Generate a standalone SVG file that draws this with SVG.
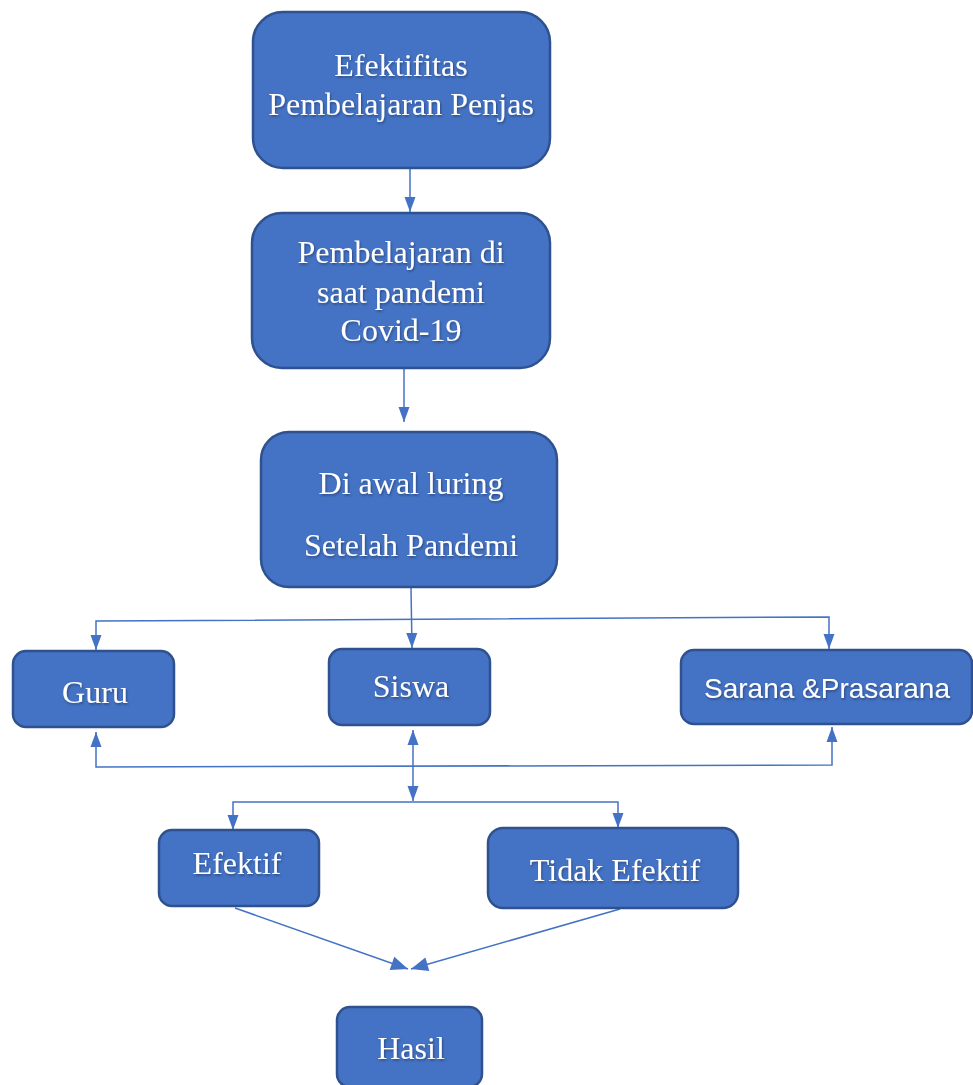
<svg xmlns="http://www.w3.org/2000/svg" width="973" height="1085" viewBox="0 0 973 1085">
<style>
.box{fill:#4472C4;stroke:#2F528F;stroke-width:2.5}
.t{font-family:"Liberation Serif","Times New Roman",serif;font-size:32px;fill:#ffffff;text-anchor:middle;filter:url(#ts)}
.s{font-family:"Liberation Sans",Arial,sans-serif;font-size:28px;fill:#ffffff;text-anchor:middle;filter:url(#ts)}
.c{fill:none;stroke:#4472C4;stroke-width:1.5}
</style>
<defs>
<marker id="ah" markerUnits="userSpaceOnUse" markerWidth="18" markerHeight="14" viewBox="0 0 16 14" refX="15" refY="7" orient="auto-start-reverse">
<path d="M0,1.5 L15,7 L0,12.5 Z" fill="#4472C4"/>
</marker>
<marker id="ahb" markerUnits="userSpaceOnUse" markerWidth="20" markerHeight="18" viewBox="0 0 18 18" refX="17" refY="9" orient="auto">
<path d="M0,2 L17,9 L0,16 Z" fill="#4472C4"/>
</marker>
<filter id="ts" x="-10%" y="-20%" width="120%" height="150%">
<feDropShadow dx="1" dy="1.5" stdDeviation="1" flood-color="#000" flood-opacity="0.35"/>
</filter>
</defs>
<rect width="973" height="1085" fill="#ffffff"/>
<g id="connectors">
<line class="c" x1="410" y1="168" x2="410" y2="212" marker-end="url(#ah)"/>
<line class="c" x1="404" y1="369" x2="404" y2="422" marker-end="url(#ah)"/>
<line class="c" x1="411" y1="588" x2="412" y2="648" marker-end="url(#ah)"/>
<polyline class="c" points="96,650 96,621 829,617 829,649" marker-start="url(#ah)" marker-end="url(#ah)"/>
<polyline class="c" points="96,732 96,767 832,765 832,727" marker-start="url(#ah)" marker-end="url(#ah)"/>
<line class="c" x1="413" y1="730" x2="413" y2="801" marker-start="url(#ah)" marker-end="url(#ah)"/>
<polyline class="c" points="233,830 233,802 618,802 618,828" marker-start="url(#ah)" marker-end="url(#ah)"/>
<line class="c" x1="235" y1="908" x2="408" y2="969" marker-end="url(#ahb)"/>
<line class="c" x1="620" y1="909" x2="411" y2="969" marker-end="url(#ahb)"/>
</g>
<g id="n1">
<rect class="box" x="253" y="12" width="297" height="156" rx="30"/>
<text class="t" x="401" y="76">Efektifitas</text>
<text class="t" x="401" y="115">Pembelajaran Penjas</text>
</g>
<g id="n2">
<rect class="box" x="252" y="213" width="298" height="155" rx="30"/>
<text class="t" x="401" y="263">Pembelajaran di</text>
<text class="t" x="401" y="303">saat pandemi</text>
<text class="t" x="401" y="341">Covid-19</text>
</g>
<g id="n3">
<rect class="box" x="261" y="432" width="296" height="155" rx="28"/>
<text class="t" x="411" y="494">Di awal luring</text>
<text class="t" x="411" y="556">Setelah Pandemi</text>
</g>
<g id="guru">
<rect class="box" x="13" y="651" width="161" height="76" rx="13"/>
<text class="t" x="95" y="703">Guru</text>
</g>
<g id="siswa">
<rect class="box" x="329" y="649" width="161" height="76" rx="13"/>
<text class="t" x="411" y="697">Siswa</text>
</g>
<g id="sarana">
<rect class="box" x="681" y="650" width="291" height="74" rx="13"/>
<text class="s" x="827" y="698">Sarana &amp;Prasarana</text>
</g>
<g id="efektif">
<rect class="box" x="159" y="830" width="160" height="76" rx="13"/>
<text class="t" x="237" y="874">Efektif</text>
</g>
<g id="tidak">
<rect class="box" x="488" y="828" width="250" height="80" rx="15"/>
<text class="t" x="615" y="881">Tidak Efektif</text>
</g>
<g id="hasil">
<rect class="box" x="337" y="1007" width="145" height="80" rx="13"/>
<text class="t" x="411" y="1059">Hasil</text>
</g>
</svg>
